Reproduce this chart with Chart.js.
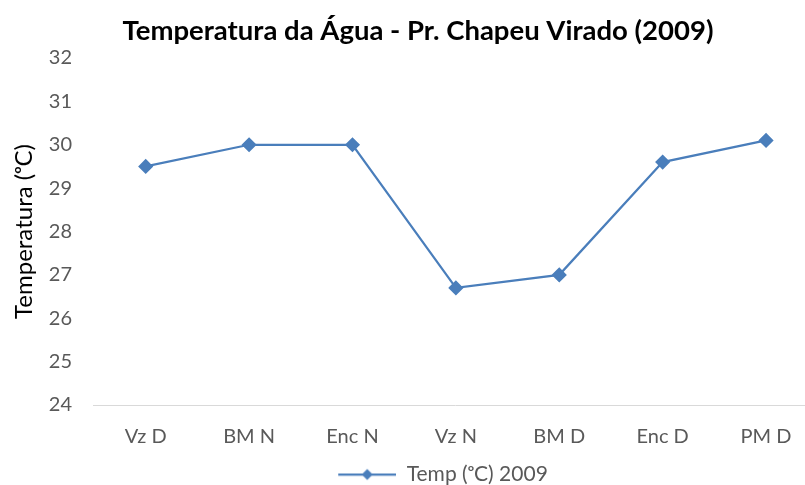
<!DOCTYPE html>
<html>
<head>
<meta charset="utf-8">
<script src="https://cdn.jsdelivr.net/npm/chart.js@4"></script>
<style>
    html, body { margin: 0; padding: 0; background: #fff; overflow: hidden; }
    #wrap { width: 826px; height: 485px; }
</style>
</head>
<body>
<div id="wrap"><canvas id="grafico"></canvas></div>
<script>
// Temperatura da água - Pr. Chapeu Virado (2009)
const PONTOS = ['Vz D', 'BM N', 'Enc N', 'Vz N', 'BM D', 'Enc D', 'PM D'];
const TEMPERATURAS = [29.5, 30.0, 30.0, 26.7, 27.0, 29.6, 30.1];
const Y_MIN = 24;
const Y_MAX = 32;

const COR = '#4a7ebb';
const FONTE = 'Lato, "Open Sans", sans-serif';

// marcador da legenda: linha com losango no meio (com folga à esquerda para centralizar como no original)
function marcadorLegenda() {
    const folga = 50;
    const c = document.createElement('canvas');
    c.width = folga + 58; c.height = 14;
    const g = c.getContext('2d');
    g.strokeStyle = COR;
    g.lineWidth = 2.25;
    g.beginPath();
    g.moveTo(folga, 7); g.lineTo(folga + 58, 7);
    g.stroke();
    g.fillStyle = COR;
    g.beginPath();
    g.moveTo(folga + 29, 1.5); g.lineTo(folga + 34.5, 7); g.lineTo(folga + 29, 12.5); g.lineTo(folga + 23.5, 7);
    g.closePath();
    g.fill();
    return c;
}

const ctx = document.getElementById('grafico');

new Chart(ctx, {
    type: 'line',
    data: {
        labels: PONTOS,
        datasets: [{
            label: 'Temp (ᵒC) 2009',
            data: TEMPERATURAS,
            borderColor: COR,
            backgroundColor: COR,
            borderWidth: 2.25,
            tension: 0,
            pointStyle: 'rectRot',
            pointRadius: 6,
            pointBackgroundColor: COR,
            pointBorderColor: COR
        }]
    },
    options: {
        responsive: true,
        maintainAspectRatio: false,
        animation: false,
        layout: { padding: { top: 15, left: 10, right: 0, bottom: -10 } },
        plugins: {
            title: {
                display: true,
                text: 'Temperatura da Água - Pr. Chapeu Virado (2009)',
                color: '#000',
                font: { family: FONTE, size: 27.5, weight: 'bold' },
                padding: { top: 0, bottom: 10 }
            },
            legend: {
                position: 'bottom',
                labels: {
                    color: '#595959',
                    font: { family: FONTE, size: 21 },
                    usePointStyle: true,
                    boxWidth: 108,
                    boxHeight: 14,
                    pointStyleWidth: 108,
                    padding: 3,
                    generateLabels: (chart) => [{
                        text: chart.data.datasets[0].label,
                        pointStyle: marcadorLegenda(),
                        fontColor: '#595959',
                        datasetIndex: 0
                    }]
                }
            },
            tooltip: { enabled: false }
        },
        scales: {
            x: {
                offset: true,
                grid: { display: false, offset: true },
                border: { display: true, color: '#d9d9d9', width: 1 },
                ticks: {
                    color: '#595959',
                    font: { family: FONTE, size: 20 },
                    padding: 12,
                    maxRotation: 0
                }
            },
            y: {
                min: Y_MIN,
                max: Y_MAX,
                grid: { display: false, drawTicks: false },
                border: { display: false },
                ticks: {
                    stepSize: 1,
                    color: '#595959',
                    font: { family: FONTE, size: 20 },
                    padding: 22
                },
                title: {
                    display: true,
                    text: 'Temperatura (ᵒC)',
                    color: '#000',
                    font: { family: FONTE, size: 24 },
                    padding: { top: 0, bottom: -12 }
                }
            }
        }
    }
});
</script>
</body>
</html>
